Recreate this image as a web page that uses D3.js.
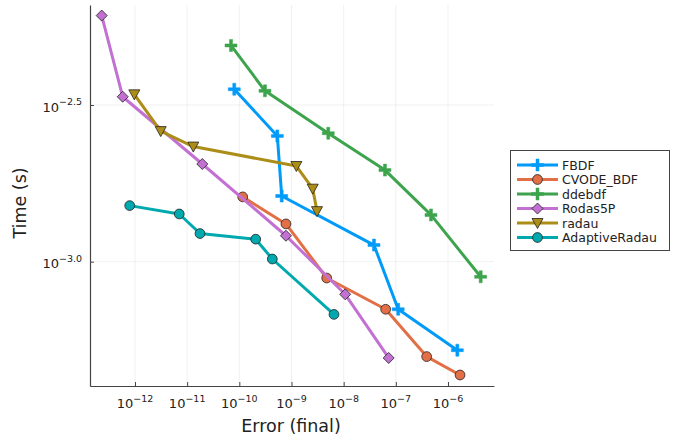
<!DOCTYPE html>
<html><head><meta charset="utf-8">
<script src="https://cdn.jsdelivr.net/npm/d3@7"></script>
<style>body{margin:0;background:#fff}svg{font-family:"DejaVu Sans",sans-serif}</style>
</head><body><svg id="c" width="682" height="440"></svg>
<script>
const seriesNames = ["FBDF","CVODE_BDF","ddebdf","Rodas5P","radau","AdaptiveRadau"];
const colors = ["#009af9","#e26f46","#3da44d","#c271d2","#ac8d18","#00a9ad"];
const markers = ["cross","circle","cross","diamond","triangleDown","circle"];
const errFBDF = [8.00e-11,5.35e-10,6.49e-10,3.81e-8,1.11e-7,1.51e-6];
const timeFBDF = [3.55e-3,2.52e-3,1.62e-3,1.13e-3,7.05e-4,5.22e-4];
const errCVODE = [1.16e-10,7.83e-10,4.73e-9,6.38e-8,3.90e-7,1.70e-6];
const timeCVODE = [1.61e-3,1.32e-3,8.87e-4,7.05e-4,4.98e-4,4.35e-4];
const errDdebdf = [6.92e-11,3.10e-10,5.07e-9,6.19e-8,4.72e-7,4.23e-6];
const timeDdebdf = [4.90e-3,3.51e-3,2.57e-3,1.96e-3,1.41e-3,8.95e-4];
const errRodas = [2.30e-13,5.81e-13,1.95e-11,7.83e-10,1.07e-8,7.29e-8];
const timeRodas = [6.10e-3,3.36e-3,2.05e-3,1.21e-3,7.87e-4,4.93e-4];
const errRadau = [9.70e-13,3.11e-12,1.31e-11,1.24e-9,2.55e-9,3.08e-9];
const timeRadau = [3.42e-3,2.61e-3,2.33e-3,2.02e-3,1.71e-3,1.45e-3];
const errAdaptive = [7.91e-13,7.06e-12,1.76e-11,2.06e-10,4.29e-10,6.52e-9];
const timeAdaptive = [1.51e-3,1.42e-3,1.23e-3,1.18e-3,1.02e-3,6.79e-4];
const xTickExp = [-12,-11,-10,-9,-8,-7,-6];
const yTickExp = ["-2.5","-3.0"];
const xLabel = "Error (final)";
const yLabel = "Time (s)";

const errs = [errFBDF,errCVODE,errDdebdf,errRodas,errRadau,errAdaptive];
const times = [timeFBDF,timeCVODE,timeDdebdf,timeRodas,timeRadau,timeAdaptive];

const svg = d3.select("#c");
const L=90, R=494, T=5, B=386;
const x0 = d3.scaleLog().domain([1e-12,1e-6]).range([135,448]);
const x = d3.scaleLog().domain([x0.invert(L), x0.invert(R)]).range([L,R]);
const y0 = d3.scaleLog().domain([Math.pow(10,-2.5),1e-3]).range([105,261.7]);
const y = d3.scaleLog().domain([y0.invert(B), y0.invert(T)]).range([B,T]);

const xt = xTickExp.map(e=>Math.pow(10,e));
const yt = yTickExp.map(e=>Math.pow(10,+e));

// grid
svg.append("g").selectAll("line").data(xt).join("line")
  .attr("x1",d=>x(d)).attr("x2",d=>x(d)).attr("y1",T).attr("y2",B)
  .attr("stroke","#000").attr("stroke-opacity",0.1).attr("stroke-width",0.6);
svg.append("g").selectAll("line").data(yt).join("line")
  .attr("y1",d=>y(d)).attr("y2",d=>y(d)).attr("x1",L).attr("x2",R)
  .attr("stroke","#000").attr("stroke-opacity",0.1).attr("stroke-width",0.6);

// axes
const xAxis = svg.append("g").attr("transform",`translate(0,${B})`)
  .call(d3.axisBottom(x).tickValues(xt).tickSizeInner(-4).tickSizeOuter(0).tickFormat(""));
const yAxis = svg.append("g").attr("transform",`translate(${L},0)`)
  .call(d3.axisLeft(y).tickValues(yt).tickSizeInner(-4).tickSizeOuter(0).tickFormat(""));
[xAxis,yAxis].forEach(a=>{a.select(".domain").attr("stroke","#444").attr("stroke-width",1.2);
  a.selectAll(".tick line").attr("stroke","#444").attr("stroke-width",1);});

// tick labels
xt.forEach((d,i)=>{
  const t = svg.append("text").attr("x",x(d)).attr("y",408).attr("text-anchor","middle")
    .attr("font-size",13).attr("fill","#222");
  t.append("tspan").text("10");
  t.append("tspan").attr("font-size",9.5).attr("dy",-6.5).text("\u2212"+Math.abs(xTickExp[i]));
});
yt.forEach((d,i)=>{
  const t = svg.append("text").attr("x",82).attr("y",y(d)+6.7).attr("text-anchor","end")
    .attr("font-size",13).attr("fill","#222");
  t.append("tspan").text("10");
  t.append("tspan").attr("font-size",9.5).attr("dy",-6.5).text("\u2212"+yTickExp[i].slice(1));
});

svg.append("text").attr("x",291).attr("y",431.5).attr("text-anchor","middle")
  .attr("font-size",17.5).attr("fill","#222").text(xLabel);
svg.append("text").attr("transform",`translate(26,203) rotate(-90)`)
  .attr("text-anchor","middle").attr("font-size",17.5).attr("fill","#222").text(yLabel);

function markerPath(type){
  if(type==="circle") return d3.symbol(d3.symbolCircle,75)();
  if(type==="diamond") return "M0,-5.5L5.5,0L0,5.5L-5.5,0Z";
  if(type==="triangleDown") return "M-5.5,-4.5L5.5,-4.5L0,5.5Z";
  if(type==="cross") return "M-1.5,-6L1.5,-6L1.5,-1.5L6,-1.5L6,1.5L1.5,1.5L1.5,6L-1.5,6L-1.5,1.5L-6,1.5L-6,-1.5L-1.5,-1.5Z";
}
const line = d3.line().x(d=>x(d[0])).y(d=>y(d[1]));
const plot = svg.append("g");
seriesNames.forEach((name,i)=>{
  const pts = errs[i].map((e,j)=>[e,times[i][j]]);
  plot.append("path").attr("d",line(pts)).attr("fill","none").attr("stroke",colors[i])
    .attr("stroke-width",3).attr("stroke-linejoin","round");
  plot.append("g").selectAll("path").data(pts).join("path")
    .attr("transform",d=>`translate(${x(d[0])},${y(d[1])})`)
    .attr("d",markerPath(markers[i])).attr("fill",colors[i])
    .attr("stroke",markers[i]==="cross"?colors[i]:"#222").attr("stroke-width",markers[i]==="cross"?0.5:0.8);
});

// legend
const lg = svg.append("g");
lg.append("rect").attr("x",510.5).attr("y",150.5).attr("width",159).attr("height",100)
  .attr("fill","#fff").attr("stroke","#444").attr("stroke-width",1);
seriesNames.forEach((name,i)=>{
  const ly = 165 + i*14.5;
  lg.append("line").attr("x1",517).attr("x2",558).attr("y1",ly).attr("y2",ly)
    .attr("stroke",colors[i]).attr("stroke-width",3);
  lg.append("path").attr("transform",`translate(537.5,${ly})`).attr("d",markerPath(markers[i]))
    .attr("fill",colors[i]).attr("stroke",markers[i]==="cross"?colors[i]:"#222")
    .attr("stroke-width",markers[i]==="cross"?0.5:0.8);
  lg.append("text").attr("x",562).attr("y",ly+4.5).attr("font-size",12.5).attr("fill","#222").text(name);
});
</script></body></html>
